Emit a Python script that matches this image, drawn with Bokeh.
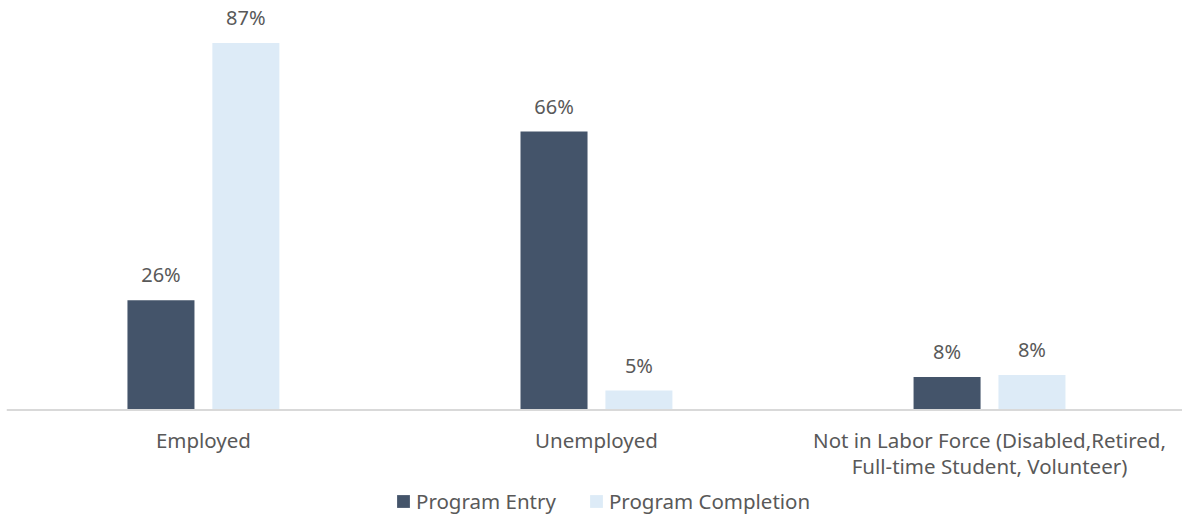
from bokeh.plotting import figure
from bokeh.models import ColumnDataSource, Range1d, Legend, LegendItem, LabelSet, Span
from bokeh.core.properties import value
from bokeh.embed import file_html
from bokeh.resources import INLINE

categories = ["Employed", "Unemployed", "Not in Labor Force (Disabled,Retired,\nFull-time Student, Volunteer)"]
entry = [26, 66, 7.8]
completion = [87, 4.6, 8.3]
entry_labels = ["26%", "66%", "8%"]
completion_labels = ["87%", "5%", "8%"]

DARK = "#44546A"
LIGHT = "#DDEBF7"
TXT = "#595959"
FONT = "Noto Sans"

xs = list(range(len(categories)))
off = 0.108
bw = 0.1705

line1 = [c.split("\n")[0] for c in categories]
line2 = [c.split("\n")[1] if "\n" in c else "" for c in categories]

src_e = ColumnDataSource(dict(x=[i - off for i in xs], top=entry, lab=entry_labels))
src_c = ColumnDataSource(dict(x=[i + off for i in xs], top=completion, lab=completion_labels))
src_l1 = ColumnDataSource(dict(x=xs, y=[0] * len(xs), lab=line1))
src_l2 = ColumnDataSource(dict(x=xs, y=[0] * len(xs), lab=line2))

p = figure(frame_width=1176, frame_height=519, output_backend="svg", toolbar_location=None,
           x_range=Range1d(-0.501, 2.491), y_range=Range1d(-25.96, 97.08),
           min_border_left=6, min_border_right=0, min_border_top=0, min_border_bottom=0,
           x_axis_location=None, y_axis_location=None)
p.outline_line_color = None
p.grid.visible = False
p.background_fill_color = "white"
p.border_fill_color = "white"

r1 = p.vbar(x="x", top="top", width=bw, source=src_e, fill_color=DARK, line_color=None)
r2 = p.vbar(x="x", top="top", width=bw, source=src_c, fill_color=LIGHT, line_color=None)

p.add_layout(Span(location=0, dimension="width", line_color="#D9D9D9", line_width=2))

for s in (src_e, src_c):
    lbl = LabelSet(x="x", y="top", text="lab", source=s, text_align="center", text_baseline="bottom",
                   y_offset=12, text_font=value(FONT), text_font_size="20px", text_color=TXT)
    p.add_layout(lbl)

for s, dy in ((src_l1, -16), (src_l2, -42)):
    cat = LabelSet(x="x", y="y", text="lab", source=s, text_align="center", text_baseline="top",
                   y_offset=dy, text_font=value(FONT), text_font_size="20.5px", text_color=TXT)
    p.add_layout(cat)

legend = Legend(items=[LegendItem(label="Program Entry", renderers=[r1]),
                       LegendItem(label="Program Completion", renderers=[r2])],
                orientation="horizontal", location=(389, 4),
                label_text_font=FONT, label_text_font_size="20.5px", label_text_color=TXT,
                glyph_width=16, glyph_height=16, spacing=32, label_standoff=5, label_height=20,
                border_line_color=None, background_fill_alpha=0, padding=2, margin=0)
p.add_layout(legend)

open("out.html", "w").write(file_html(p, INLINE))
